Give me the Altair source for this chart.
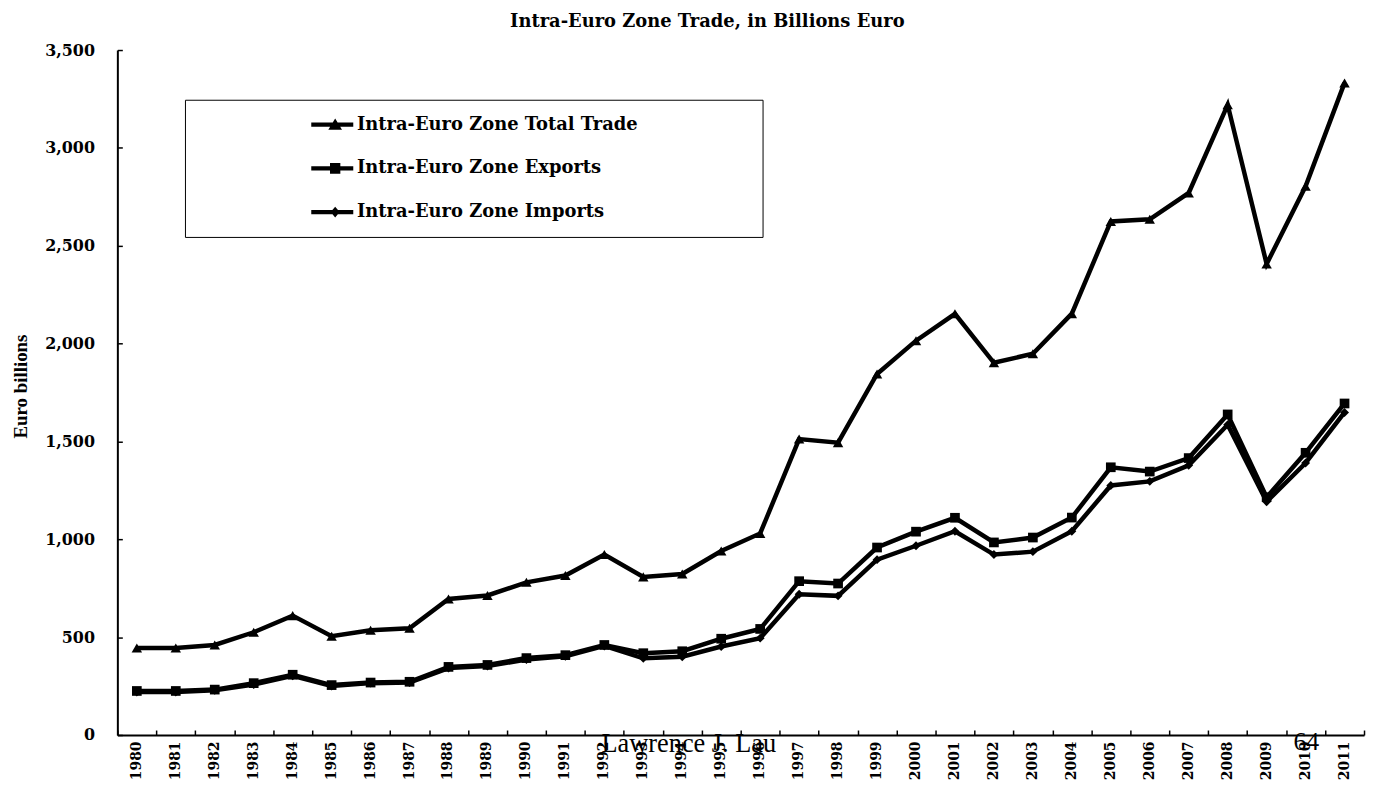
import altair as alt
import pandas as pd

# ---------------- data ----------------
years = list(range(1980, 2012))
series_names = [
    "Intra-Euro Zone Total Trade",
    "Intra-Euro Zone Exports",
    "Intra-Euro Zone Imports",
]
total_trade = [445, 445, 460, 525, 610, 505, 535, 545, 695, 713, 780, 815,
               922, 808, 823, 940, 1030, 1512, 1494, 1845, 2015, 2152,
               1902, 1948, 2153, 2624, 2635, 2770, 3220, 2407, 2804, 3332]
exports = [225, 225, 232, 265, 308, 255, 268, 272, 348, 358, 393, 408,
           460, 418, 428, 492, 542, 786, 774, 958, 1039, 1110,
           984, 1009, 1111, 1368, 1346, 1415, 1638, 1215, 1442, 1694]
imports = [220, 220, 228, 258, 302, 250, 265, 268, 342, 352, 386, 402,
           455, 392, 400, 452, 495, 719, 711, 896, 967, 1041,
           922, 937, 1041, 1275, 1296, 1378, 1585, 1192, 1390, 1648]
y_ticks = [0, 500, 1000, 1500, 2000, 2500, 3000, 3500]
chart_title = ["Intra-Euro Zone Trade, in Billions Euro"]
y_title = "Euro billions"
footer_left = ["Lawrence J. Lau"]
footer_right = ["64"]

rows = []
for name, vals in zip(series_names, [total_trade, exports, imports]):
    for yr, v in zip(years, vals):
        rows.append({"year": yr, "value": v, "series": name, "legend_series": name})
df = pd.DataFrame(rows)

# ---------------- layout ----------------
W, H = 1254, 689
BOLD_FONT = "DejaVu Serif"

x_scale = alt.Scale(type="band", paddingInner=0, paddingOuter=0)
y_scale = alt.Scale(domain=[0, 3500], nice=False)

x_main = alt.X(
    "year:O", scale=x_scale, bandPosition=0.5,
    axis=alt.Axis(orient="bottom", title=None, ticks=False, tickSize=0,
                  labelAngle=270, labelPadding=6, labelFont=BOLD_FONT,
                  labelFontSize=14, labelFontWeight="bold", labelColor="black",
                  labelOverlap=False, domainColor="black", domainWidth=2,
                  grid=False),
)
y_main = alt.Y(
    "value:Q", scale=y_scale,
    axis=alt.Axis(orient="left", values=y_ticks, format=",.0f", title=y_title,
                  ticks=False, tickSize=0, labelPadding=23, grid=False,
                  labelFont=BOLD_FONT, labelFontSize=16, labelFontWeight="bold",
                  labelColor="black", domainColor="black", domainWidth=2,
                  titleFont="Liberation Serif", titleFontSize=19,
                  titleFontWeight="bold", titleColor="black", titlePadding=14,
                  titleY=338),
)

lines = alt.Chart(df).mark_line(color="black", strokeWidth=4.5).encode(
    x=x_main, y=y_main, detail="series:N"
)

# inward-pointing ticks (axes moved onto the plot edges)
x_ticks_axis = alt.X(
    "year:O", scale=x_scale, bandPosition=0.5,
    axis=alt.Axis(orient="top", offset=-H, labels=False, domain=False,
                  tickSize=5, tickWidth=1.5, tickColor="black",
                  tickBand="extent", title=None, grid=False),
)
y_ticks_axis = alt.Y(
    "value:Q", scale=y_scale,
    axis=alt.Axis(orient="right", offset=-W, labels=False, domain=False,
                  values=y_ticks, tickSize=5, tickWidth=1.5, tickColor="black",
                  title=None, grid=False),
)

points = alt.Chart(df).mark_point(filled=True, color="black", opacity=1).encode(
    x=x_ticks_axis,
    y=y_ticks_axis,
    shape=alt.Shape("series:N",
                    scale=alt.Scale(domain=series_names,
                                    range=["triangle-up", "square", "diamond"]),
                    legend=None),
    size=alt.Size("series:N",
                  scale=alt.Scale(domain=series_names, range=[110, 80, 60]),
                  legend=None),
)

# legend symbols: a line segment with the series marker
# (the bare move-to points only set the extent of the legend box)
anchor = "M-1,-1M-1,1M41.8,0"
seg = "M7.85,-0.16H11.1V0.16H7.85Z"
legend_paths = [
    anchor + seg + "M9.17,0.4L9.7,-0.48L10.23,0.4Z",
    anchor + seg + "M9.3,-0.42H10.1V0.42H9.3Z",
    anchor + seg + "M9.7,-0.42L10.05,0L9.7,0.42L9.35,0Z",
]

legend_layer = alt.Chart(df).mark_point(filled=True, color="black", opacity=0).encode(
    x=alt.X("year:O", scale=x_scale, bandPosition=0.5, axis=None),
    y=alt.Y("value:Q", scale=y_scale, axis=None),
    shape=alt.Shape(
        "legend_series:N",
        scale=alt.Scale(domain=series_names, range=legend_paths),
        legend=alt.Legend(
            title=None, orient="none", legendX=68, legendY=50,
            direction="vertical", symbolSize=676, symbolOpacity=1,
            symbolStrokeWidth=0, padding=12, rowPadding=18, labelOffset=135,
            labelFont=BOLD_FONT, labelFontSize=18, labelFontWeight="bold",
            labelColor="black", labelLimit=2000,
            strokeColor="black", fillColor="white",
        ),
    ),
)

title_text = alt.Chart(pd.DataFrame({"t": chart_title})).mark_text(
    font=BOLD_FONT, fontSize=18, fontWeight="bold", align="left",
    baseline="alphabetic", color="black"
).encode(text="t:N", x=alt.value(395), y=alt.value(-23))

footer1 = alt.Chart(pd.DataFrame({"t": footer_left})).mark_text(
    font="Liberation Serif", fontSize=26.5, align="left", baseline="alphabetic",
    color="black"
).encode(text="t:N", x=alt.value(487), y=alt.value(706))

footer2 = alt.Chart(pd.DataFrame({"t": footer_right})).mark_text(
    font="Liberation Serif", fontSize=26, align="left", baseline="alphabetic",
    color="black"
).encode(text="t:N", x=alt.value(1183), y=alt.value(704))

chart = (
    alt.layer(lines, points, legend_layer, title_text, footer1, footer2)
    .resolve_scale(shape="independent", size="independent")
    .resolve_axis(x="independent", y="independent")
    .properties(
        width=W, height=H,
        autosize=alt.AutoSizeParams(type="none"),
        padding={"left": 110, "top": 40, "right": 4, "bottom": 46},
    )
    .configure_view(stroke=None)
)

chart.save("out.html", embed_options={"renderer": "svg", "actions": False})
